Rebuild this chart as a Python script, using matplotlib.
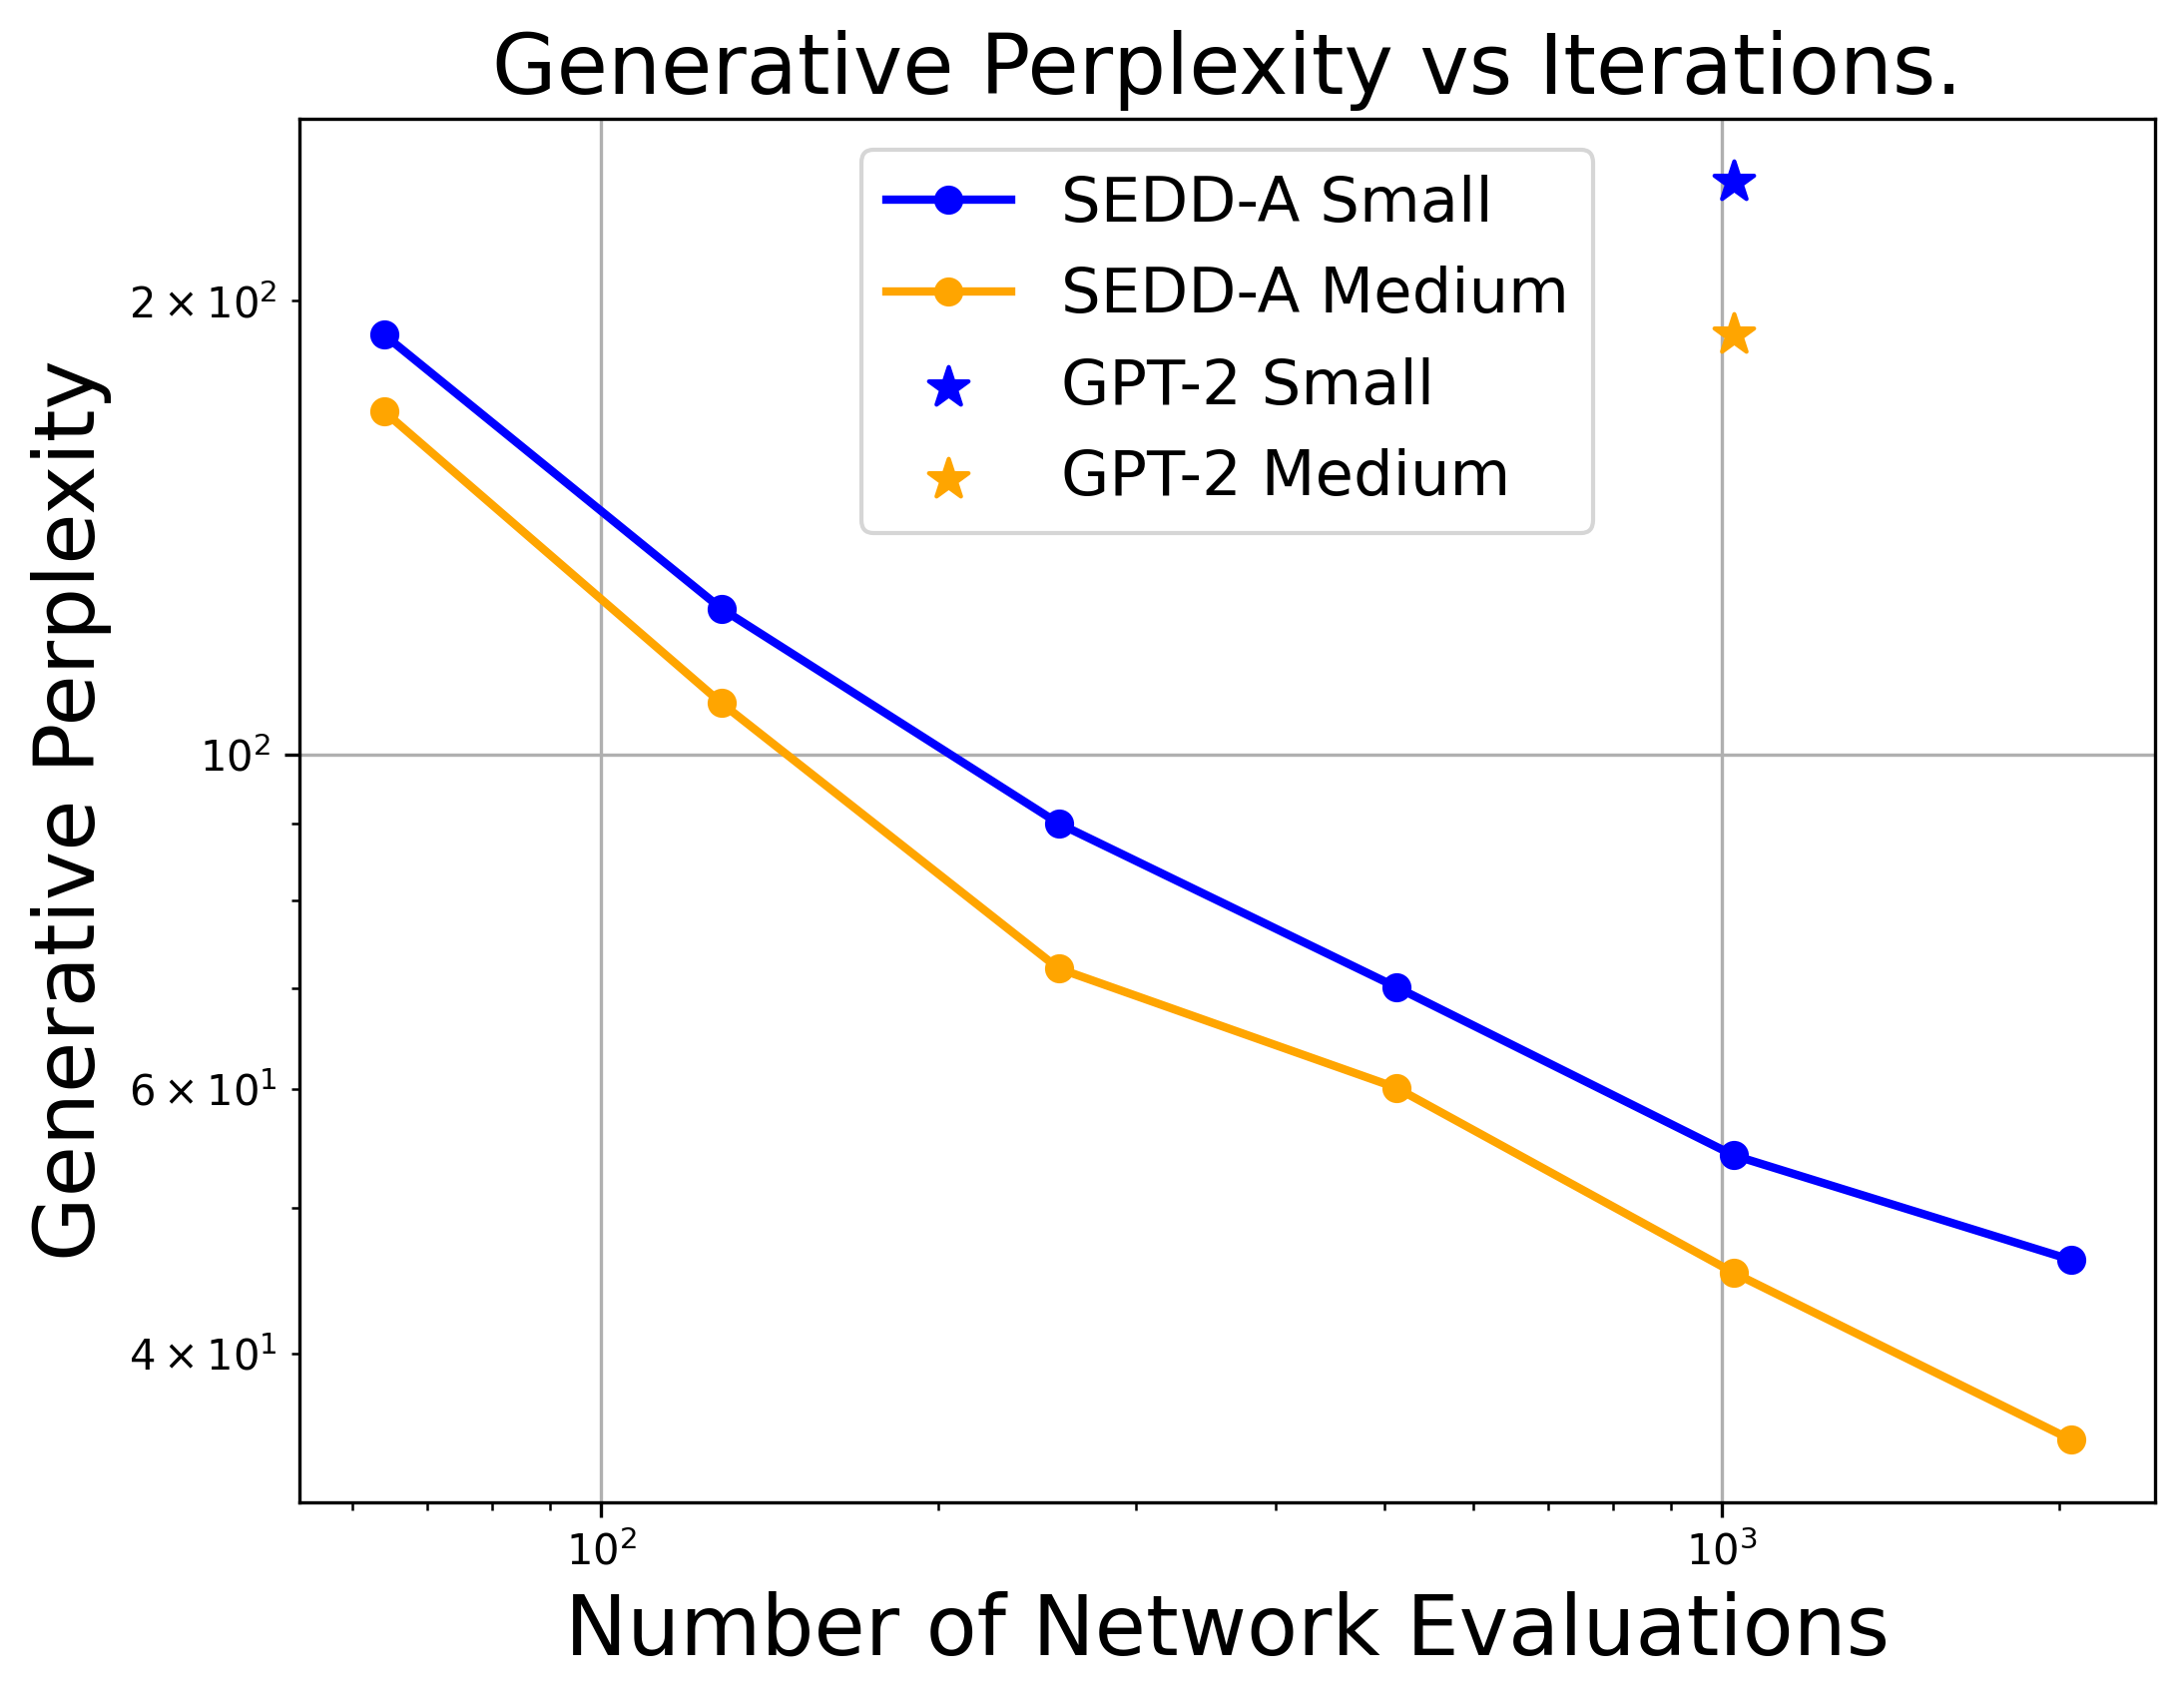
import matplotlib
matplotlib.use("Agg")
import matplotlib.pyplot as plt

nfe = [64, 128, 256, 512, 1024, 2048]
sedd_small = [190, 125, 90, 70.1, 54.2, 46.2]
sedd_medium = [169, 108.2, 72.1, 60.1, 45.3, 35.1]
gpt2_x = [1024]
gpt2_small = [240]
gpt2_medium = [190]

fig = plt.figure(figsize=(2188/300, 1704/300), dpi=300)
ax = fig.add_axes([300/2188, 1 - 1505/1704, (2159-300)/2188, (1505-119)/1704])

ax.plot(nfe, sedd_small, marker='o', color='blue', lw=2, label='SEDD-A Small')
ax.plot(nfe, sedd_medium, marker='o', color='orange', lw=2, label='SEDD-A Medium')
ax.scatter(gpt2_x, gpt2_small, marker='*', color='blue', s=100, label='GPT-2 Small', zorder=3)
ax.scatter(gpt2_x, gpt2_medium, marker='*', color='orange', s=100, label='GPT-2 Medium', zorder=3)
ax.set_xscale('log')
ax.set_yscale('log')
ax.grid(True, which='major')
ax.set_title('Generative Perplexity vs Iterations.', fontsize=20)
ax.set_xlabel('Number of Network Evaluations', fontsize=20)
ax.set_ylabel('Generative Perplexity', fontsize=20)
ax.legend(loc='upper center', fontsize=15)

fig.savefig('out.png', dpi=300)
